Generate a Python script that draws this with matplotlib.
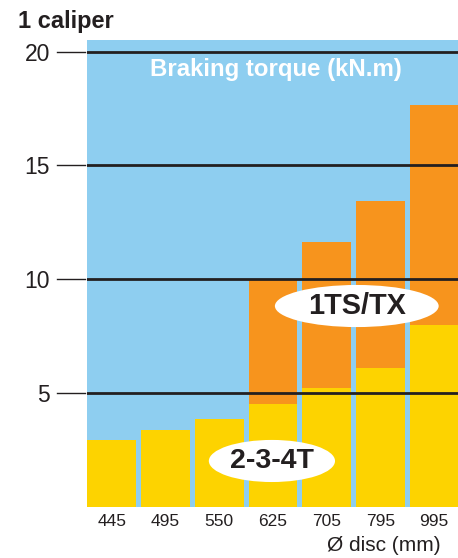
import numpy as np
import matplotlib.pyplot as plt
import matplotlib.transforms as mtransforms
from matplotlib.patches import Ellipse

plt.rcParams['font.family'] = ['Liberation Sans', 'DejaVu Sans']

# data (kN.m, one caliper)
# -------------------------------------------------------------------------------------
discs = ["445", "495", "550", "625", "705", "795", "995"]
torque_234t = [2.93, 3.37, 3.84, 4.51, 5.23, 6.11, 7.99]         # 2-3-4T (yellow)
torque_1ts = [np.nan, np.nan, np.nan, 10.0, 11.64, 13.44, 17.66]  # 1TS/TX top (orange)
yticks = [5, 10, 15, 20]

blue = '#8ECEF0'
orange = '#F7941D'
yellow = '#FDD300'
dark = '#231F20'

fig = plt.figure(figsize=(4.58, 5.58), dpi=100)
ax = fig.add_axes([0.191, 0.0919, 0.809, 0.8364])
ax.set_facecolor(blue)

x = np.arange(len(discs))
width = 0.91

# orange part stacked on top of the yellow part
upper = np.array(torque_1ts) - np.array(torque_234t)
ax.bar(x, torque_234t, width=width, color=yellow, zorder=2)
ax.bar(x, upper, bottom=torque_234t, width=width, color=orange, zorder=2)

for yv in yticks:
    ax.axhline(yv, color=dark, lw=2.0, zorder=3)

ax.set_xlim(-0.455, 6.445)
ax.set_ylim(0, 20.51)

# y ticks: short dashes standing a little off the plot area
ax.set_yticks(yticks)
ax.set_yticklabels([str(v) for v in yticks], fontsize=16.5, color=dark)
ax.tick_params(axis='y', length=0, pad=27)
trans = mtransforms.blended_transform_factory(ax.transAxes, ax.transData)
for yv in yticks:
    ax.plot([-0.082, -0.008], [yv, yv], transform=trans, color=dark, lw=1,
            clip_on=False)

ax.set_xticks(x)
ax.set_xticklabels(discs, fontsize=12.5, color=dark)
ax.tick_params(axis='x', length=0, pad=5)

for s in ax.spines.values():
    s.set_visible(False)

ax.text(0.509, 0.936, "Braking torque (kN.m)", transform=ax.transAxes,
        ha='center', va='center', color='white', fontsize=17.3, fontweight='bold')

# series labels in white ellipses
ax.add_patch(Ellipse((4.56, 8.82), 3.05, 1.85, facecolor='white', edgecolor='none', zorder=4))
ax.text(4.56, 8.82, "1TS/TX", ha='center', va='center', fontsize=20.8,
        fontweight='bold', color=dark, zorder=5)
ax.add_patch(Ellipse((2.98, 2.01), 2.35, 1.85, facecolor='white', edgecolor='none', zorder=4))
ax.text(2.98, 2.01, "2-3-4T", ha='center', va='center', fontsize=20.5,
        fontweight='bold', color=dark, zorder=5)

fig.text(0.039, 0.95, "1 caliper", ha='left', va='baseline', fontsize=17,
         fontweight='bold', color=dark)
fig.text(0.961, 0.023, "Ø disc (mm)", ha='right', va='center', fontsize=15, color=dark)

fig.savefig('out.png', dpi=100)
